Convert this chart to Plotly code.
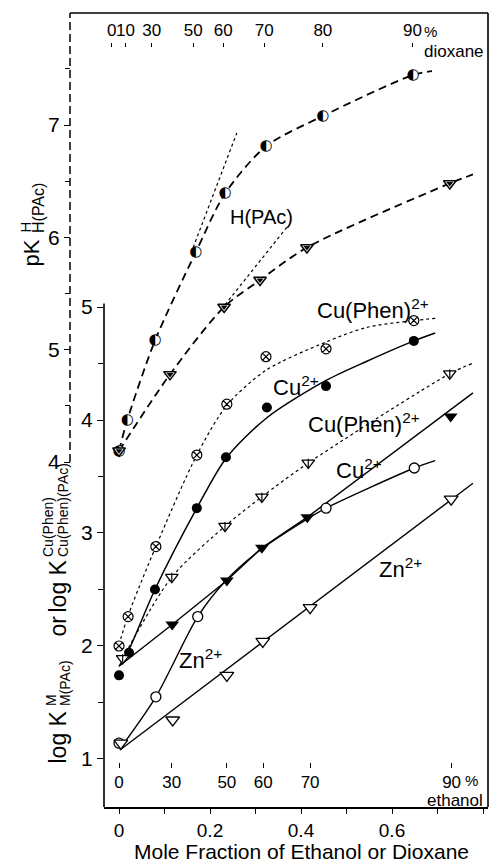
import plotly.graph_objects as go

FONT = "Liberation Sans"
INK = "black"

# ---------------------------------------------------------------------------
# Secondary scales: vol-% of co-solvent placed at its mole fraction
# ---------------------------------------------------------------------------
dioxane_pct_text = ["0", "10", "30", "50", "60", "70", "80", "90"]
dioxane_pct_x = [-0.016, 0.014, 0.072, 0.163, 0.229, 0.319, 0.448, 0.645]
ethanol_pct_text = ["0", "30", "50", "60", "70", "90"]
ethanol_pct_x = [0.0, 0.116, 0.237, 0.317, 0.420, 0.731]

# ---------------------------------------------------------------------------
# pK^H_H(PAc)  (outer, dashed scale)
# ---------------------------------------------------------------------------
pk_dioxane_x = [0.0, 0.018, 0.079, 0.169, 0.233, 0.323, 0.448, 0.646]
pk_dioxane_y = [4.10, 4.37, 5.08, 5.87, 6.39, 6.81, 7.08, 7.445]
pk_dioxane_fit_x = [0.0, 0.018, 0.079, 0.169, 0.233, 0.323, 0.448, 0.646, 0.688]
pk_dioxane_fit_y = [4.10, 4.37, 5.08, 5.87, 6.39, 6.81, 7.08, 7.445, 7.48]

pk_ethanol_x = [0.0, 0.112, 0.231, 0.310, 0.413, 0.727]
pk_ethanol_y = [4.10, 4.78, 5.38, 5.62, 5.91, 6.48]
pk_ethanol_fit_x = [0.0, 0.112, 0.231, 0.310, 0.413, 0.727, 0.778]
pk_ethanol_fit_y = [4.10, 4.78, 5.38, 5.62, 5.91, 6.48, 6.56]

# limiting slopes (dotted)
tangent_dioxane_x = [0.163, 0.259]
tangent_dioxane_y = [5.91, 6.93]
tangent_ethanol_x = [0.233, 0.369]
tangent_ethanol_y = [5.40, 6.09]

# ---------------------------------------------------------------------------
# log K^M_M(PAc) and log K^Cu(Phen)_Cu(Phen)(PAc)  (inner scale)
# ---------------------------------------------------------------------------
cuphen_dioxane_x = [0.0, 0.020, 0.081, 0.171, 0.237, 0.323, 0.455, 0.648]
cuphen_dioxane_y = [2.00, 2.26, 2.88, 3.69, 4.14, 4.56, 4.63, 4.88]
cuphen_dioxane_fit_x = [0.0, 0.020, 0.081, 0.171, 0.237, 0.323, 0.455, 0.545, 0.695]
cuphen_dioxane_fit_y = [2.01, 2.27, 2.88, 3.69, 4.13, 4.44, 4.69, 4.82, 4.90]

cu_dioxane_x = [0.0, 0.022, 0.079, 0.171, 0.235, 0.325, 0.455, 0.648]
cu_dioxane_y = [1.74, 1.94, 2.50, 3.22, 3.67, 4.11, 4.30, 4.70]
cu_dioxane_fit_x = [0.0, 0.022, 0.079, 0.171, 0.235, 0.325, 0.455, 0.545, 0.648, 0.695]
cu_dioxane_fit_y = [1.82, 1.97, 2.50, 3.22, 3.66, 4.02, 4.35, 4.52, 4.70, 4.77]

cuphen_ethanol_x = [0.008, 0.116, 0.233, 0.314, 0.416, 0.727]
cuphen_ethanol_y = [1.89, 2.61, 3.06, 3.32, 3.62, 4.41]
cuphen_ethanol_fit_x = [0.008, 0.116, 0.233, 0.314, 0.416, 0.727, 0.776]
cuphen_ethanol_fit_y = [1.89, 2.61, 3.06, 3.32, 3.62, 4.41, 4.50]

cu_ethanol_x = [0.117, 0.237, 0.314, 0.414, 0.729]
cu_ethanol_y = [2.19, 2.58, 2.87, 3.14, 4.03]
cu_ethanol_fit_x = [0.0, 0.117, 0.237, 0.314, 0.414, 0.778]
cu_ethanol_fit_y = [1.82, 2.19, 2.58, 2.87, 3.14, 4.24]

zn_dioxane_x = [0.0, 0.081, 0.173, 0.455, 0.649]
zn_dioxane_y = [1.14, 1.55, 2.26, 3.22, 3.575]
zn_dioxane_fit_x = [0.002, 0.081, 0.173, 0.235, 0.314, 0.416, 0.455, 0.649, 0.695]
zn_dioxane_fit_y = [1.09, 1.55, 2.26, 2.58, 2.86, 3.13, 3.22, 3.575, 3.64]

zn_ethanol_x = [0.004, 0.118, 0.237, 0.316, 0.420, 0.730]
zn_ethanol_y = [1.14, 1.345, 1.74, 2.04, 2.34, 3.30]
zn_ethanol_fit_x = [0.002, 0.778]
zn_ethanol_fit_y = [1.08, 3.44]

# axis scales
x_ticks = [0, 0.2, 0.4, 0.6, 0.8]
x_tick_text = ["0", "0.2", "0.4", "0.6", "0.8"]
x_minor = [0.1, 0.3, 0.5, 0.7]
logk_ticks = [1, 2, 3, 4, 5]
logk_minor = [1.5, 2.5, 3.5, 4.5]
pk_ticks = [4, 5, 6, 7]
pk_minor = [4.5, 5.5, 6.5, 7.5]

X_RANGE = [-0.033, 0.811]
LOGK_RANGE = [0.575, 7.602]
PK_RANGE = [0.929, 7.997]

W, H = 494, 863
M_L, M_R, M_T, M_B = 70, 6, 13, 56
PLOT_W = W - M_L - M_R
PLOT_H = H - M_T - M_B


def paper_x(px):
    return (px - M_L) / PLOT_W


def paper_y(py):
    return (H - M_B - py) / PLOT_H


fig = go.Figure()

DASH = "8px,5px"


def curve(x, y, yaxis="y", dash="solid", width=1.4, smooth=True):
    fig.add_trace(go.Scatter(
        x=x, y=y, yaxis=yaxis, mode="lines",
        line=dict(color=INK, width=width, dash=dash,
                  shape="spline" if smooth else "linear",
                  smoothing=0.8 if smooth else None),
        hoverinfo="skip", showlegend=False,
    ))


def points(x, y, symbol, size, fill, yaxis="y", lw=1.3):
    fig.add_trace(go.Scatter(
        x=x, y=y, yaxis=yaxis, mode="markers",
        marker=dict(symbol=symbol, size=size, color=fill,
                    line=dict(color=INK, width=lw)),
        hoverinfo="skip", showlegend=False,
    ))


# --- H(PAc) protonation constants (dashed) ---
curve(pk_dioxane_fit_x, pk_dioxane_fit_y, yaxis="y2", dash=DASH, width=1.8)
curve(pk_ethanol_fit_x, pk_ethanol_fit_y, yaxis="y2", dash=DASH, width=1.8)
curve(tangent_dioxane_x, tangent_dioxane_y, yaxis="y2", dash="dot", width=1.2, smooth=False)
curve(tangent_ethanol_x, tangent_ethanol_y, yaxis="y2", dash="dot", width=1.2, smooth=False)

# --- metal complexes ---
curve(cuphen_dioxane_fit_x, cuphen_dioxane_fit_y, dash="dot", width=1.2)
curve(cu_dioxane_fit_x, cu_dioxane_fit_y, width=1.5)
curve(cuphen_ethanol_fit_x, cuphen_ethanol_fit_y, dash="dot", width=1.2)
curve(cu_ethanol_fit_x, cu_ethanol_fit_y, width=1.4, smooth=False)
curve(zn_dioxane_fit_x, zn_dioxane_fit_y, width=1.4)
curve(zn_ethanol_fit_x, zn_ethanol_fit_y, width=1.4, smooth=False)

# half-filled circles (dioxane pK)
fig.add_trace(go.Scatter(
    x=pk_dioxane_x, y=pk_dioxane_y, yaxis="y2", mode="markers+text",
    marker=dict(symbol="circle", size=10, color="white", line=dict(width=0)),
    text=["\u25d0"] * len(pk_dioxane_x), textposition="middle center",
    textfont=dict(family="DejaVu Sans", size=15, color=INK),
    hoverinfo="skip", showlegend=False,
))
# half-filled triangles (ethanol pK)
points(pk_ethanol_x, pk_ethanol_y, "triangle-down", 11, "white", yaxis="y2", lw=1.5)
points(pk_ethanol_x, pk_ethanol_y, "triangle-down", 6, INK, yaxis="y2", lw=0)

points(cuphen_dioxane_x, cuphen_dioxane_y, "circle-x", 10, "white", lw=1.2)
points(cu_dioxane_x, cu_dioxane_y, "circle", 10, INK, lw=0)
points(cuphen_ethanol_x, cuphen_ethanol_y, "triangle-down", 11, "white", lw=1.3)
points(cuphen_ethanol_x, cuphen_ethanol_y, "line-ns-open", 6, INK, lw=1.2)
points(cu_ethanol_x, cu_ethanol_y, "triangle-down", 12, INK, lw=0)
points(zn_dioxane_x, zn_dioxane_y, "circle", 10, "white", lw=1.3)
points(zn_ethanol_x, zn_ethanol_y, "triangle-down", 12, "white", lw=1.3)

# anchors for the two percentage scales
fig.add_trace(go.Scatter(x=dioxane_pct_x, y=[None] * len(dioxane_pct_x), xaxis="x2",
                         mode="markers", hoverinfo="skip", showlegend=False))
fig.add_trace(go.Scatter(x=ethanol_pct_x, y=[None] * len(ethanol_pct_x), xaxis="x3",
                         mode="markers", hoverinfo="skip", showlegend=False))

axis_common = dict(showgrid=False, zeroline=False, color=INK,
                   ticks="outside", tickcolor=INK)

fig.update_layout(
    width=W, height=H,
    margin=dict(l=M_L, r=M_R, t=M_T, b=M_B),
    paper_bgcolor="white", plot_bgcolor="white",
    font=dict(family=FONT, color=INK),
    showlegend=False,
    xaxis=dict(domain=[paper_x(104), 1], range=X_RANGE, anchor="y",
               tickvals=x_ticks, ticktext=x_tick_text, ticklen=5, tickwidth=1.3,
               tickfont=dict(size=19), tickangle=0,
               minor=dict(tickvals=x_minor, ticks="outside", ticklen=5,
                          tickwidth=1.3, tickcolor=INK, showgrid=False),
               showline=True, linecolor=INK, linewidth=1.6, **axis_common),
    xaxis2=dict(overlaying="x", anchor="free", position=paper_y(47), side="top",
                range=X_RANGE, tickvals=dioxane_pct_x, ticktext=dioxane_pct_text,
                ticklen=4, tickwidth=1, tickfont=dict(size=17), tickangle=0,
                showline=False, **axis_common),
    xaxis3=dict(overlaying="x", anchor="free", position=paper_y(762), side="bottom",
                range=X_RANGE, tickvals=ethanol_pct_x, ticktext=ethanol_pct_text,
                ticklen=5, tickwidth=1, tickfont=dict(size=17), tickangle=0,
                showline=False, **axis_common),
    yaxis=dict(range=LOGK_RANGE, anchor="x", tickvals=logk_ticks, ticklen=6,
               tickwidth=1.3, tickfont=dict(size=21),
               minor=dict(tickvals=logk_minor, ticks="outside", ticklen=5,
                          tickwidth=1.3, tickcolor=INK, showgrid=False),
               showline=False, **axis_common),
    yaxis2=dict(range=PK_RANGE, overlaying="y", anchor="free", position=0, side="left",
                tickvals=pk_ticks, ticklen=6, tickwidth=1.3, tickfont=dict(size=21),
                minor=dict(tickvals=pk_minor, ticks="outside", ticklen=5,
                           tickwidth=1.3, tickcolor=INK, showgrid=False),
                showline=False, **axis_common),
)

# frame: top and right borders, inner solid axis, outer dashed axis
fig.add_shape(type="line", xref="paper", yref="paper", x0=0, x1=1, y0=1, y1=1,
              line=dict(color=INK, width=1.6))
fig.add_shape(type="line", xref="paper", yref="paper", x0=1, x1=1, y0=0, y1=1,
              line=dict(color=INK, width=1.6))
fig.add_shape(type="line", xref="x domain", yref="y", x0=0, x1=0,
              y0=LOGK_RANGE[0], y1=5.03, line=dict(color=INK, width=1.6))
fig.add_shape(type="line", xref="paper", yref="y2", x0=0, x1=0,
              y0=pk_ticks[0], y1=PK_RANGE[1], line=dict(color=INK, width=1.5, dash="8px,4px"))


def note(text, x, y, size, xref="x", yref="y", xanchor="left", yanchor="bottom", angle=0):
    fig.add_annotation(text=text, x=x, y=y, xref=xref, yref=yref, showarrow=False,
                       xanchor=xanchor, yanchor=yanchor, textangle=angle,
                       font=dict(family=FONT, size=size, color=INK), borderpad=0)


# curve labels
note("H(PAc)", 0.314, 6.18, 20, yref="y2", xanchor="center", yanchor="middle")
note("Cu(Phen)<sup>2+</sup>", 0.433, 4.85, 22)
note("Cu<sup>2+</sup>", 0.336, 4.168, 22)
note("Cu(Phen)<sup>2+</sup>", 0.413, 3.84, 22)
note("Cu<sup>2+</sup>", 0.475, 3.434, 22)
note("Zn<sup>2+</sup>", 0.569, 2.558, 22)
note("Zn<sup>2+</sup>", 0.130, 1.752, 22)

# percentage-scale captions
note("%", paper_x(430), paper_y(31), 15, xref="paper", yref="paper",
     xanchor="center", yanchor="middle")
note("dioxane", paper_x(454), paper_y(52), 17, xref="paper", yref="paper",
     xanchor="center", yanchor="middle")
note("%", paper_x(471), paper_y(780), 15, xref="paper", yref="paper",
     xanchor="center", yanchor="middle")
note("ethanol", paper_x(455), paper_y(800), 17, xref="paper", yref="paper",
     xanchor="center", yanchor="middle")

# x-axis title
note("Mole Fraction of Ethanol or Dioxane", paper_x(301), paper_y(851), 21,
     xref="paper", yref="paper", xanchor="center", yanchor="middle")

# y-axis titles, built piecewise so super/subscripts stack
rot = dict(xref="paper", yref="paper", xanchor="center", yanchor="bottom", angle=-90)
note("pK", paper_x(31), paper_y(268), 22, **rot)
note("H", paper_x(25), paper_y(234), 15, **rot)
note("H(PAc)", paper_x(38), paper_y(234), 16, **rot)

note("log K", paper_x(57), paper_y(765), 23, **rot)
note("M", paper_x(51), paper_y(707), 14, **rot)
note("M(PAc)", paper_x(65), paper_y(707), 14, **rot)
note("or", paper_x(57), paper_y(638), 23, **rot)
note("log K", paper_x(57), paper_y(614), 23, **rot)
note("Cu(Phen)", paper_x(48), paper_y(558), 14, **rot)
note("Cu(Phen)(PAc)", paper_x(63), paper_y(558), 14, **rot)

fig.write_html("out.html")
